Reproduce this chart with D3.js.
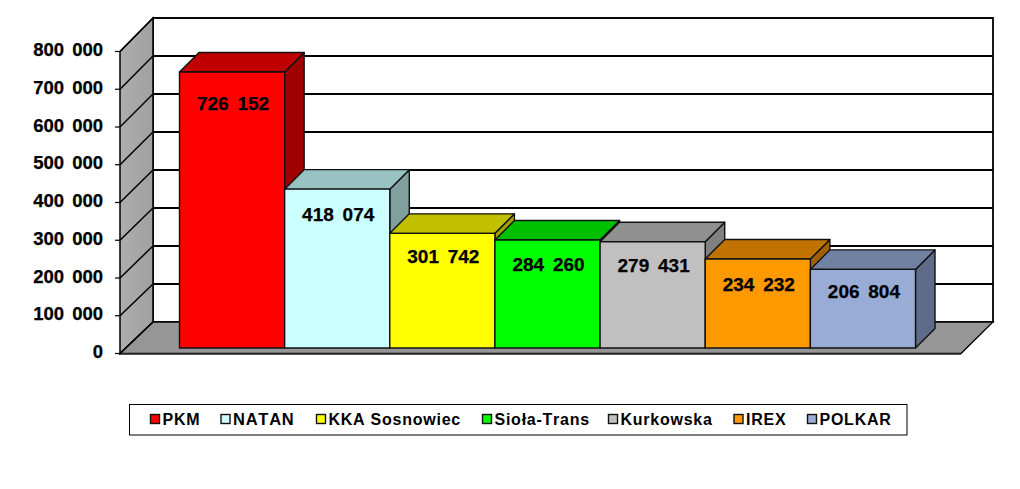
<!DOCTYPE html>
<html><head><meta charset="utf-8">
<script src="https://cdn.jsdelivr.net/npm/d3@7/dist/d3.min.js"></script>
<style>html,body{margin:0;padding:0;background:#fff}svg{display:block}text{font-family:"Liberation Sans",Arial,sans-serif;font-weight:bold;fill:#000;font-kerning:none}</style>
</head><body><svg id="c" width="1020" height="489"></svg>
<script>
const categories=["PKM","NATAN","KKA Sosnowiec","Sioła-Trans","Kurkowska","IREX","POLKAR"];
const values=[726152,418074,301742,284260,279431,234232,206804];
const valueLabels=["726 152","418 074","301 742","284 260","279 431","234 232","206 804"];
const yTicks=[0,100000,200000,300000,400000,500000,600000,700000,800000];
const tickLabels=["0","100 000","200 000","300 000","400 000","500 000","600 000","700 000","800 000"];
const frontColors=["#ff0000","#ccffff","#ffff00","#00ff00","#c0c0c0","#ff9900","#99acd6"];
const topColors=["#c00000","#99c2c2","#c0c000","#00c000","#909090","#c07300","#7081a1"];
const sideColors=["#a00000","#80a0a0","#a0a000","#00a000","#808080","#a06000","#5f6c87"];

// layout
const wallX0=120,wallX1=153,rightFront=961,rightBack=993;
const frontBase=353.5,backBase=322,backTop=18,frontTop=51.5;
const barBase=348,depthX=19.5,depthY=19.5;
const labelDy=[31,25,23,24,23,25,22];
const svg=d3.select("#c");
const defs=svg.append("defs");
const g=defs.append("linearGradient").attr("id","wall").attr("x1",0).attr("x2",1).attr("y1",0).attr("y2",0);
g.append("stop").attr("offset",0).attr("stop-color","#aeaeae");
g.append("stop").attr("offset",1).attr("stop-color","#a0a0a0");

const yBack=d3.scaleLinear().domain([0,800000]).range([backBase,backTop]);
const yFront=d3.scaleLinear().domain([0,800000]).range([frontBase,frontTop]);
const yBar=d3.scaleLinear().domain([0,800000]).range([barBase,barBase-304]);
const x=d3.scaleBand().domain(categories).range([179.5,915.5]).paddingInner(0).paddingOuter(0);
const poly=p=>p.map(q=>q.join(",")).join(" ");

// back wall
svg.append("rect").attr("x",wallX1).attr("y",backTop).attr("width",rightBack-wallX1).attr("height",backBase-backTop)
  .attr("fill","#fff").attr("stroke","#000").attr("stroke-width",1.8);
// left wall
svg.append("polygon").attr("points",poly([[wallX0,frontTop],[wallX1,backTop],[wallX1,backBase],[wallX0,frontBase]]))
  .attr("fill","url(#wall)").attr("stroke","#000").attr("stroke-width",1.5);
// floor
svg.append("polygon").attr("points",poly([[wallX0,frontBase],[rightFront,frontBase],[rightBack,backBase],[wallX1,backBase]]))
  .attr("fill","#969696").attr("stroke","#000").attr("stroke-width",1.3);
svg.append("line").attr("x1",wallX0).attr("x2",rightFront).attr("y1",frontBase+.5).attr("y2",frontBase+.5).attr("stroke","#333").attr("stroke-width",1.6);

// gridlines
yTicks.forEach((t,k)=>{
  if(t>0) svg.append("line").attr("x1",wallX1).attr("x2",rightBack).attr("y1",yBack(t)).attr("y2",yBack(t)).attr("stroke","#000").attr("stroke-width",t===800000?1.6:2);
  svg.append("line").attr("x1",wallX0).attr("x2",wallX1).attr("y1",yFront(t)).attr("y2",yBack(t)).attr("stroke","#000").attr("stroke-width",1.5);
  svg.append("line").attr("x1",wallX0-5).attr("x2",wallX0).attr("y1",yFront(t)).attr("y2",yFront(t)).attr("stroke","#000").attr("stroke-width",1.2);
  svg.append("text").attr("x",103).attr("y",yFront(t)-2).attr("dy","0.36em").attr("text-anchor","end")
    .attr("font-size",18.5).attr("word-spacing",3).attr("stroke","#000").attr("stroke-width",0.25).text(tickLabels[k]);
});

// bars
const bw=x.bandwidth();
categories.forEach((c,i)=>{
  const x0=x(c),x1=x0+bw,yT=yBar(values[i]);
  const b=svg.append("g").attr("stroke","#111").attr("stroke-width",1.4).attr("stroke-linejoin","round");
  b.append("polygon").attr("points",poly([[x1,yT],[x1+depthX,yT-depthY],[x1+depthX,barBase-depthY],[x1,barBase]])).attr("fill",sideColors[i]);
  b.append("polygon").attr("points",poly([[x0,yT],[x0+depthX,yT-depthY],[x1+depthX,yT-depthY],[x1,yT]])).attr("fill",topColors[i]);
  b.append("rect").attr("x",x0).attr("y",yT).attr("width",bw).attr("height",barBase-yT).attr("fill",frontColors[i]);
});
categories.forEach((c,i)=>{
  svg.append("text").attr("x",x(c)+bw/2+1).attr("y",yBar(values[i])+labelDy[i]).attr("dy","0.36em").attr("text-anchor","middle")
    .attr("font-size",19).attr("word-spacing",3.5).attr("stroke","#000").attr("stroke-width",0.25).text(valueLabels[i]);
});

// legend
svg.append("rect").attr("x",129.5).attr("y",404.5).attr("width",777.5).attr("height",30.5).attr("fill","#fff").attr("stroke","#000").attr("stroke-width",1);
const legendX=[150.5,221,316.5,482.5,608.5,734,807.5];
const legendFont=[16,16.5,16,16,16,16,16];
categories.forEach((c,i)=>{
  svg.append("rect").attr("x",legendX[i]).attr("y",414.5).attr("width",9).attr("height",9).attr("fill",frontColors[i]).attr("stroke","#111").attr("stroke-width",1.4);
  svg.append("text").attr("x",legendX[i]+12).attr("y",424.5).attr("font-size",legendFont[i]).attr("letter-spacing",0.75).text(c);
});
</script></body></html>
